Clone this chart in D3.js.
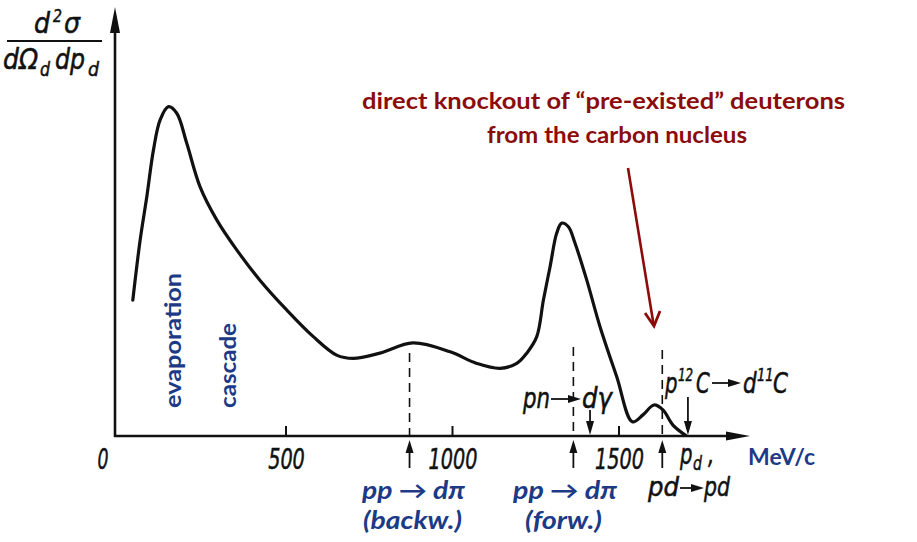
<!DOCTYPE html>
<html>
<head>
<meta charset="utf-8">
<script src="https://cdn.jsdelivr.net/npm/d3@7"></script>
<style>
  html, body { margin: 0; padding: 0; background: #fff; }
  svg { display: block; }
  .hand { font-family: "Liberation Sans Narrow", "DejaVu Sans Condensed", sans-serif; font-style: italic; fill: #111; stroke: #111; stroke-width: 0.5; }
  .note { font-family: Lato, "Open Sans", sans-serif; font-weight: 700; }
</style>
</head>
<body>
<svg id="chart" width="917" height="542"></svg>
<script>
// Deuteron momentum spectrum d²σ/dΩ dp versus p_d (MeV/c), arbitrary units
const momentum = [40, 62, 82, 102, 122, 147, 172, 202, 242, 292, 352, 421, 502, 582, 652, 702, 782, 881, 993, 1073, 1143, 1193, 1223, 1253, 1273, 1293, 1313, 1328, 1348, 1368, 1403, 1443, 1493, 1540, 1572, 1605, 1632, 1662, 1700];
const crossSection = [41.2, 59.4, 72.5, 86.7, 95.8, 99.8, 97.8, 88.7, 75.5, 65.5, 56.4, 47.3, 38.2, 30.1, 24.5, 23.5, 25.1, 28.2, 25.5, 22.0, 20.5, 22.0, 25.1, 30.1, 41.2, 51.3, 61.5, 64.5, 63.4, 58.4, 47.3, 33.1, 18.0, 4.3, 6.4, 9.4, 7.9, 3.3, 0.2];
const tickValues = [500, 1000, 1500];
const tickLabels = ["500", "1000", "1500"];
// Kinematic limits of the two-body reactions (dashed lines, arrows under the axis)
const reactionMomenta = [871, 1363, 1630];
// Arrows pointing down onto the axis: pn→dγ and p¹²C→d¹¹C
const downArrowMomenta = [1413, 1707];

const svg = d3.select("#chart");
const x = d3.scaleLinear().domain([0, 1500]).range([119.5, 619]);
const y = d3.scaleLinear().domain([0, 100]).range([436, 106]);

const axisX0 = 115, axisY0 = y(0);
const ink = "#111";

// plain text helper; a fixed length keeps the narrow lettering compact
function txt(str, px, py, size, len, cls = "hand") {
  const t = svg.append("text").attr("class", cls).attr("x", px).attr("y", py)
    .attr("font-size", size).text(str);
  if (len) t.attr("textLength", len).attr("lengthAdjust", "spacingAndGlyphs");
  return t;
}

// one text element with raised / lowered parts, squeezed horizontally
function formula(ox, oy, parts, sx = 0.78) {
  const t = svg.append("text").attr("class", "hand")
    .attr("transform", `translate(${ox},${oy}) scale(${sx},1)`);
  parts.forEach(p => {
    t.append("tspan").attr("x", p.dx / sx).attr("y", p.dy || 0)
      .attr("font-size", p.size || 28).text(p.s);
  });
  return t;
}

// axes with arrowheads
svg.append("line").attr("x1", axisX0).attr("x2", axisX0).attr("y1", axisY0 + 1).attr("y2", 28)
  .attr("stroke", ink).attr("stroke-width", 2.6);
svg.append("path").attr("d", `M${axisX0},7 L${axisX0 - 5},33 L${axisX0 + 5},33 Z`).attr("fill", ink);
svg.append("line").attr("x1", axisX0 - 1).attr("x2", 730).attr("y1", axisY0).attr("y2", axisY0)
  .attr("stroke", ink).attr("stroke-width", 2.4);
svg.append("path").attr("d", `M750,${axisY0} L726,${axisY0 - 4.5} L726,${axisY0 + 4.5} Z`).attr("fill", ink);

// ticks and tick labels
svg.selectAll(".tick").data(tickValues).join("line")
  .attr("x1", d => x(d)).attr("x2", d => x(d))
  .attr("y1", axisY0).attr("y2", axisY0 - 10)
  .attr("stroke", ink).attr("stroke-width", 2);
svg.selectAll(".ticklab").data(tickLabels).join("text")
  .attr("class", "hand")
  .attr("x", (d, i) => x(tickValues[i]) + 0.5)
  .attr("y", 469).attr("text-anchor", "middle")
  .attr("font-size", 28)
  .attr("textLength", d => d.length * 12.2).attr("lengthAdjust", "spacingAndGlyphs")
  .text(d => d);
txt("0", 103, 469, 28, 11).attr("text-anchor", "middle");

// dashed kinematic-limit lines and up arrows under the axis
const dashTops = [353, 347, 350];
svg.selectAll(".dash").data(reactionMomenta).join("line")
  .attr("x1", d => x(d)).attr("x2", d => x(d))
  .attr("y1", (d, i) => dashTops[i]).attr("y2", axisY0)
  .attr("stroke", ink).attr("stroke-width", 1.6).attr("stroke-dasharray", "9,6");
reactionMomenta.forEach(m => {
  const px = x(m);
  svg.append("line").attr("x1", px).attr("x2", px).attr("y1", 468).attr("y2", 450)
    .attr("stroke", ink).attr("stroke-width", 1.8);
  svg.append("path").attr("d", `M${px},440 L${px - 4},453 L${px + 4},453 Z`).attr("fill", ink);
});
const downTops = [410, 397];
downArrowMomenta.forEach((m, i) => {
  const px = x(m);
  svg.append("line").attr("x1", px).attr("x2", px).attr("y1", downTops[i]).attr("y2", 424)
    .attr("stroke", ink).attr("stroke-width", 1.8);
  svg.append("path").attr("d", `M${px},435 L${px - 4},421 L${px + 4},421 Z`).attr("fill", ink);
});

// spectrum curve
const line = d3.line().x((d, i) => x(momentum[i])).y(d => y(d)).curve(d3.curveCatmullRom.alpha(0.5));
svg.append("path").datum(crossSection).attr("d", line)
  .attr("fill", "none").attr("stroke", ink).attr("stroke-width", 3.2)
  .attr("stroke-linecap", "round").attr("stroke-linejoin", "round");

// y-axis quantity as a fraction
txt("d", 34, 33, 28, 16);
txt("2", 53, 22, 18, 9);
txt("σ", 64, 33, 28, 16);
svg.append("line").attr("x1", 7).attr("x2", 102).attr("y1", 41).attr("y2", 41)
  .attr("stroke", ink).attr("stroke-width", 2);
txt("dΩ", 3, 69, 28, 35);
txt("d", 40, 76, 20, 10);
txt("dp", 55, 69, 28, 30);
txt("d", 88, 76, 20, 11);

// axis variable
formula(680, 464, [
  { s: "p", dx: 0 },
  { s: "d", dx: 13, dy: 6, size: 20 },
  { s: ",", dx: 28 }
]);

// small filled arrow used inside reaction formulas
function reactionArrow(x1, x2, yy) {
  svg.append("line").attr("x1", x1).attr("x2", x2 - 8).attr("y1", yy).attr("y2", yy)
    .attr("stroke", ink).attr("stroke-width", 1.8);
  svg.append("path").attr("d", `M${x2},${yy} L${x2 - 13},${yy - 4} L${x2 - 13},${yy + 4} Z`).attr("fill", ink);
}

// pn → dγ
txt("pn", 523, 408, 28, 27);
reactionArrow(551, 581, 399);
txt("dγ", 582, 408, 28, 30);

// p ¹²C → d ¹¹C
formula(665, 393, [
  { s: "p", dx: 0 },
  { s: "12", dx: 13, dy: -12, size: 17 },
  { s: "C", dx: 31 }
]);
reactionArrow(712, 741, 383);
formula(743, 393, [
  { s: "d", dx: 0 },
  { s: "11", dx: 14, dy: -12, size: 17 },
  { s: "C", dx: 30 }
], 0.85);

// pd → pd
txt("pd", 648, 496, 26, 31);
reactionArrow(680, 704, 488);
txt("pd", 704, 496, 26, 26);

// blue annotations
const blue = "#1c3a86";
svg.append("text").attr("class", "note").attr("fill", blue).attr("font-size", 22)
  .attr("transform", "translate(181,408) rotate(-90)")
  .attr("textLength", 135).attr("lengthAdjust", "spacingAndGlyphs").text("evaporation");
svg.append("text").attr("class", "note").attr("fill", blue).attr("font-size", 22)
  .attr("transform", "translate(236,408) rotate(-90)")
  .attr("textLength", 85).attr("lengthAdjust", "spacingAndGlyphs").text("cascade");
txt("MeV/c", 748, 465, 22, 67, "note").attr("fill", blue);

const reactionNotes = [
  { x: 362, top: "pp → dπ", bottom: "(backw.)" },
  { x: 513, top: "pp → dπ", bottom: "(forw.)" }
];
const topLens = [103, 104], bottomLens = [99, 77], bottomX = [363, 525];
reactionNotes.forEach((n, i) => {
  txt(n.top, n.x, 499, 24, topLens[i], "note").attr("fill", blue).attr("font-style", "italic");
  txt(n.bottom, bottomX[i], 529, 24, bottomLens[i], "note").attr("fill", blue).attr("font-style", "italic");
});

// red call-out
const red = "#8c0b0b";
txt("direct knockout of “pre-existed” deuterons", 362, 109, 23, 483, "note").attr("fill", red);
txt("from the carbon nucleus", 487, 143, 23, 260, "note").attr("fill", red);
svg.append("line").attr("x1", 628).attr("y1", 168).attr("x2", 653.5).attr("y2", 324)
  .attr("stroke", red).attr("stroke-width", 2.6);
svg.append("path").attr("d", "M645,313 L654,326 L660,311")
  .attr("fill", "none").attr("stroke", red).attr("stroke-width", 2.8).attr("stroke-linejoin", "miter");
</script>
</body>
</html>
